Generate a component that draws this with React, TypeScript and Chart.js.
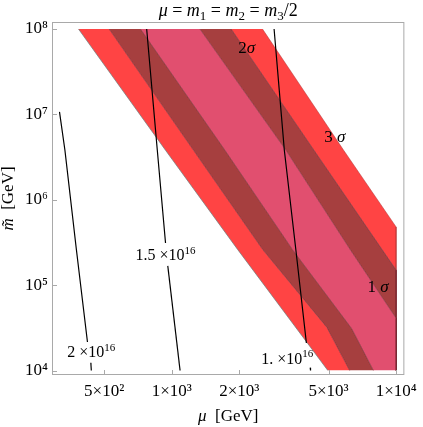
import React, { useEffect, useRef } from 'react';
import { Chart, registerables } from 'chart.js';

Chart.register(...registerables);

const FONT = '"Liberation Serif", "DejaVu Serif", "Times New Roman", serif';

// axis ranges (log-log)
const X_MIN = 292.6;
const X_MAX = 10880;
const Y_MIN = 8860;
const Y_MAX = 1.208e8;

const xTickValues = [500, 1000, 2000, 5000, 10000];
const xTickLabels = ['5×10²', '1×10³', '2×10³', '5×10³', '1×10⁴'];
const yTickValues = [1e4, 1e5, 1e6, 1e7, 1e8];
const yTickLabels = ['10⁴', '10⁵', '10⁶', '10⁷', '10⁸'];

type P = [number, number];

// σ-band boundaries [μ, m̃], listed from top (1e8) to bottom (1e4)
const edgeOuterLow: P[] = [[384, 1e8], [938, 3.8e6], [1969, 2.6e5], [4962, 1e4]];
const edge3to2Low: P[] = [[526, 1e8], [1250, 3.8e6], [2546, 2.6e5], [4912, 3.2e4], [6205, 1e4]];
const edge2to1Low: P[] = [[725, 1e8], [1725, 3.8e6], [3452, 2.6e5], [6331, 3.1e4], [7917, 1e4]];
const edge1to2High: P[] = [[1335, 1e8], [3229, 3.8e6], [6249, 2.6e5], [10000, 4.1e4], [10000, 1e4]];
const edge2to3High: P[] = [[1839, 1e8], [4303, 3.8e6], [10000, 1.5e5], [10000, 1e4]];
const edgeOuterHigh: P[] = [[2538, 1e8], [5836, 3.8e6], [10000, 4.8e5], [10000, 1e4]];

// contour lines (pieces, broken around their labels)
const contour2a: P[] = [[316, 1.07e7], [334, 3.83e6], [376, 2.58e5], [421, 2.16e4]];
const contour2b: P[] = [[436, 1.23e4], [438, 1e4]];
const contour15a: P[] = [[773, 1e8], [862, 3.83e6], [938, 3.12e5]];
const contour15b: P[] = [[960, 1.68e5], [1089, 1e4]];
const contour1a: P[] = [[2858, 1e8], [3174, 3.83e6], [3574, 2.58e5], [3981, 2.1e4]];
const contour1b: P[] = [[4140, 1.08e4], [4154, 1e4]];

// contour labels: mantissa text, position [μ, m̃]
const contourLabelText = ['2', '1.5', '1.'];
const contourLabelMu = [438, 938, 3272];
const contourLabelM = [1.65e4, 2.26e5, 1.4e4];

// sigma labels
const sigmaLabelText = ['1', '2', '3'];
const sigmaLabelMu = [8307, 2158, 5327];
const sigmaLabelM = [9.53e4, 6.15e7, 5.44e6];

const RED = '#ff4444';
const DARK = '#a63f3f';
const PINK = '#e14f6f';

type Run = { t: string; it?: boolean; sup?: boolean; sub?: boolean };

function fontFor(r: Run, size: number) {
  const s = r.sup || r.sub ? Math.round(size * 0.7) : size;
  return `${r.it ? 'italic ' : ''}${s}px ${FONT}`;
}

function drawRuns(ctx: CanvasRenderingContext2D, runs: Run[], cx: number, baseline: number, size: number) {
  const widths = runs.map((r) => {
    ctx.font = fontFor(r, size);
    return ctx.measureText(r.t).width;
  });
  const total = widths.reduce((a, b) => a + b, 0);
  let x = cx - total / 2;
  ctx.textAlign = 'left';
  ctx.textBaseline = 'alphabetic';
  ctx.fillStyle = '#000';
  runs.forEach((r, i) => {
    ctx.font = fontFor(r, size);
    const dy = r.sup ? -size * 0.4 : r.sub ? size * 0.25 : 0;
    ctx.fillText(r.t, x, baseline + dy);
    x += widths[i];
  });
}

const toXY = (arr: P[]) => arr.map(([x, y]) => ({ x, y }));

const framePlugin = {
  id: 'frameAndText',
  afterDatasetsDraw(chart: any) {
    const { ctx, chartArea: a, scales } = chart;
    const xs = scales.x;
    const ys = scales.y;
    ctx.save();
    // frame
    ctx.strokeStyle = '#a9a9a9';
    ctx.lineWidth = 1;
    ctx.strokeRect(a.left + 0.5, a.top + 0.5, a.right - a.left - 1, a.bottom - a.top - 1);
    // inward ticks
    ctx.beginPath();
    yTickValues.forEach((v) => {
      const py = Math.round(ys.getPixelForValue(v)) + 0.5;
      ctx.moveTo(a.left, py);
      ctx.lineTo(a.left + 5, py);
    });
    xTickValues.forEach((v) => {
      const px = Math.round(xs.getPixelForValue(v)) + 0.5;
      ctx.moveTo(px, a.bottom);
      ctx.lineTo(px, a.bottom - 5);
    });
    ctx.stroke();

    // contour labels
    contourLabelText.forEach((t, i) => {
      const px = xs.getPixelForValue(contourLabelMu[i]);
      const py = ys.getPixelForValue(contourLabelM[i]);
      drawRuns(ctx, [{ t: t + ' ×10' }, { t: '16', sup: true }], px, py + 5.5, 16);
    });
    // sigma labels
    sigmaLabelText.forEach((t, i) => {
      const px = xs.getPixelForValue(sigmaLabelMu[i]);
      const py = ys.getPixelForValue(sigmaLabelM[i]);
      drawRuns(ctx, [{ t: t + (t === '2' ? '' : ' ') }, { t: 'σ', it: true }], px, py + 5.5, 17);
    });

    // title
    const cx = (a.left + a.right) / 2;
    drawRuns(
      ctx,
      [
        { t: 'μ', it: true }, { t: ' = ' }, { t: 'm', it: true }, { t: '1', sub: true },
        { t: ' = ' }, { t: 'm', it: true }, { t: '2', sub: true },
        { t: ' = ' }, { t: 'm', it: true }, { t: '3', sub: true }, { t: '/2' },
      ],
      cx,
      15.5,
      18
    );
    // x axis title
    drawRuns(ctx, [{ t: 'μ', it: true }, { t: '  [GeV]' }], cx, 420.5, 17);
    // y axis title
    ctx.save();
    ctx.translate(13, (a.top + a.bottom) / 2);
    ctx.rotate(-Math.PI / 2);
    drawRuns(ctx, [{ t: 'm̃', it: true }, { t: '  [GeV]' }], 0, 0, 17);
    ctx.restore();
    ctx.restore();
  },
};

export default function App() {
  const ref = useRef<HTMLCanvasElement | null>(null);

  useEffect(() => {
    if (!ref.current) return;
    const edges = [edgeOuterLow, edge3to2Low, edge2to1Low, edge1to2High, edge2to3High, edgeOuterHigh];
    const fills = ['transparent', RED, DARK, PINK, DARK, RED];
    const edgeColors = [
      'rgba(110,125,125,0.9)',
      'rgba(110,35,45,0.7)',
      'rgba(110,35,45,0.7)',
      'rgba(110,35,45,0.7)',
      'rgba(110,35,45,0.7)',
      'rgba(170,50,50,0.6)',
    ];
    const bandSets = edges.map((e, i) => ({
      type: 'line',
      indexAxis: 'y',
      data: toXY(e),
      fill: i === 0 ? false : '-1',
      backgroundColor: fills[i],
      borderColor: edgeColors[i],
      borderWidth: 0.8,
      pointRadius: 0,
      tension: 0,
      order: 2,
    }));
    const contours = [contour2a, contour2b, contour15a, contour15b, contour1a, contour1b];
    const contourSets = contours.map((c) => ({
      type: 'line',
      indexAxis: 'y',
      data: toXY(c),
      fill: false,
      borderColor: '#000',
      borderWidth: 1.2,
      pointRadius: 0,
      tension: 0,
      order: 1,
    }));

    const chart = new Chart(ref.current, {
      type: 'line',
      data: { datasets: [...bandSets, ...contourSets] as any },
      options: {
        indexAxis: 'y',
        animation: false,
        responsive: false,
        layout: { padding: { top: 22, right: 15, bottom: 0, left: 0 } },
        plugins: { legend: { display: false }, tooltip: { enabled: false }, title: { display: false } },
        scales: {
          x: {
            type: 'logarithmic',
            position: 'bottom',
            min: X_MIN,
            max: X_MAX,
            afterBuildTicks: (s: any) => {
              s.ticks = xTickValues.map((v) => ({ value: v }));
            },
            afterFit: (s: any) => {
              s.height = 52;
            },
            grid: { display: false, drawTicks: false },
            border: { display: false },
            ticks: {
              autoSkip: false,
              maxRotation: 0,
              padding: 6,
              color: '#000',
              font: { family: FONT, size: 17 },
              callback: (v: any) => {
                const i = xTickValues.indexOf(Number(v));
                return i >= 0 ? xTickLabels[i] : '';
              },
            },
          },
          y: {
            type: 'logarithmic',
            position: 'left',
            min: Y_MIN,
            max: Y_MAX,
            afterBuildTicks: (s: any) => {
              s.ticks = yTickValues.map((v) => ({ value: v }));
            },
            afterFit: (s: any) => {
              s.width = 52;
            },
            grid: { display: false, drawTicks: false },
            border: { display: false },
            ticks: {
              autoSkip: false,
              padding: 4,
              color: '#000',
              font: { family: FONT, size: 17 },
              callback: (v: any) => {
                const i = yTickValues.indexOf(Number(v));
                return i >= 0 ? yTickLabels[i] : '';
              },
            },
          },
        },
      } as any,
      plugins: [framePlugin],
    });
    return () => chart.destroy();
  }, []);

  return (
    <div style={{ position: 'fixed', left: 0, top: 0, width: 423, height: 427, background: '#fff' }}>
      <canvas ref={ref} width={423} height={427} style={{ display: 'block' }} />
    </div>
  );
}
